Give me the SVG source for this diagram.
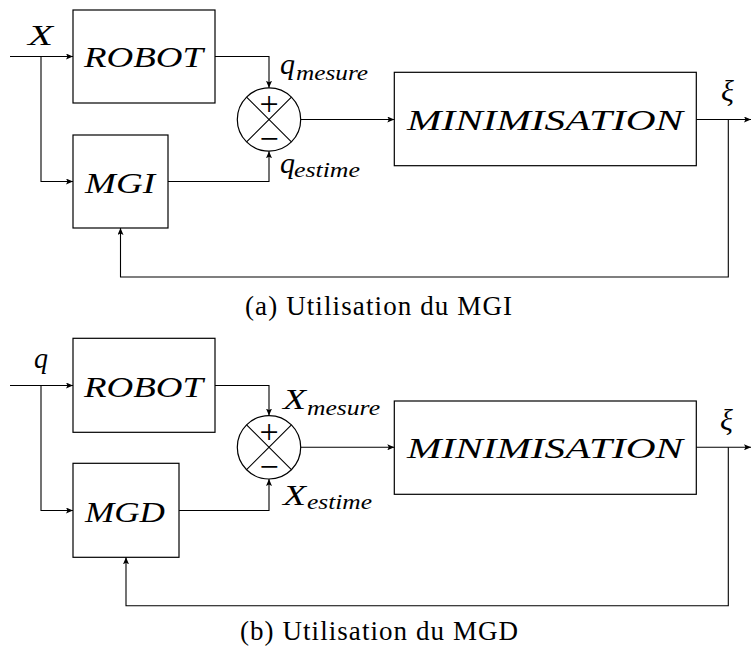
<svg xmlns="http://www.w3.org/2000/svg" width="751" height="654" viewBox="0 0 751 654">
<style>
.box{fill:#fff;stroke:#000;stroke-width:1.2}
.ln{fill:none;stroke:#000;stroke-width:1.1}
.ar{marker-end:url(#arr)}
.lab{font-family:"Liberation Serif","DejaVu Serif",serif;font-style:italic;fill:#000}
.big{font-size:30px}
.sub{font-size:21px}
.cap{font-family:"Liberation Serif","DejaVu Serif",serif;font-size:27px;fill:#000}
.pm{font-family:"Liberation Serif","DejaVu Serif",serif;font-size:34px;fill:#000;text-anchor:middle}
</style>
<defs>
<marker id="arr" markerWidth="8" markerHeight="6" refX="7" refY="3" orient="auto" markerUnits="userSpaceOnUse">
<path d="M0,0 L7,3 L0,6 L1.5,3 Z" fill="#000"/>
</marker>
</defs>
<!-- Diagram (a) -->
<g id="a-robot"><rect class="box" x="73" y="10" width="142" height="93"/><text class="lab big" x="84" y="67" textLength="119" lengthAdjust="spacingAndGlyphs">ROBOT</text></g>
<g id="a-mgi"><rect class="box" x="73" y="135" width="95" height="93"/><text class="lab big" x="85" y="193" textLength="70" lengthAdjust="spacingAndGlyphs">MGI</text></g>
<g id="a-sum"><circle cx="269" cy="119.5" r="31.7" class="box"/><path class="ln" d="M246.6,97.1 L291.4,141.9 M291.4,97.1 L246.6,141.9"/><text class="pm" x="269" y="114.5">+</text><text class="pm" x="269" y="149.5">−</text></g>
<g id="a-min"><rect class="box" x="394.3" y="72.3" width="302" height="93.4"/><text class="lab big" x="407" y="130" textLength="276" lengthAdjust="spacingAndGlyphs">MINIMISATION</text></g>
<g id="a-labels">
<text class="lab big" x="28" y="45" textLength="25" lengthAdjust="spacingAndGlyphs">X</text>
<text class="lab big" x="280" y="73.5">q</text><text class="lab sub" x="296" y="80" textLength="72" lengthAdjust="spacingAndGlyphs">mesure</text>
<text class="lab big" x="280" y="173">q</text><text class="lab sub" x="294" y="177" textLength="66" lengthAdjust="spacingAndGlyphs">estime</text>
<text class="lab big" x="721" y="101">ξ</text>
</g>
<g id="a-connectors">
<path class="ln ar" d="M10,56.5 H73"/>
<path class="ln ar" d="M41,56.5 V181.5 H73"/>
<path class="ln ar" d="M215,56.5 H269 V87.8"/>
<path class="ln ar" d="M168,181.5 H269 V151.2"/>
<path class="ln ar" d="M300.7,119.5 H394.3"/>
<path class="ln ar" d="M696.3,119.5 H751"/>
<path class="ln ar" d="M728.3,119.5 V277 H120.5 V228"/>
</g>
<text class="cap" x="245" y="315" textLength="267" lengthAdjust="spacing">(a) Utilisation du MGI</text>
<!-- Diagram (b) -->
<g id="b-robot"><rect class="box" x="73" y="338.3" width="142" height="94"/><text class="lab big" x="84" y="397" textLength="119" lengthAdjust="spacingAndGlyphs">ROBOT</text></g>
<g id="b-mgd"><rect class="box" x="73" y="463.3" width="106" height="94"/><text class="lab big" x="85" y="522" textLength="80" lengthAdjust="spacingAndGlyphs">MGD</text></g>
<g id="b-sum"><circle cx="269" cy="447.3" r="31.7" class="box"/><path class="ln" d="M246.6,424.9 L291.4,469.7 M291.4,424.9 L246.6,469.7"/><text class="pm" x="269" y="442.5">+</text><text class="pm" x="269" y="477.5">−</text></g>
<g id="b-min"><rect class="box" x="394.3" y="401" width="302" height="93.3"/><text class="lab big" x="407" y="458" textLength="276" lengthAdjust="spacingAndGlyphs">MINIMISATION</text></g>
<g id="b-labels">
<text class="lab big" x="34" y="368" textLength="14" lengthAdjust="spacingAndGlyphs">q</text>
<text class="lab big" x="283" y="409" textLength="23" lengthAdjust="spacingAndGlyphs">X</text><text class="lab sub" x="307" y="415" textLength="73" lengthAdjust="spacingAndGlyphs">mesure</text>
<text class="lab big" x="283" y="505" textLength="23" lengthAdjust="spacingAndGlyphs">X</text><text class="lab sub" x="307" y="509" textLength="65" lengthAdjust="spacingAndGlyphs">estime</text>
<text class="lab big" x="720" y="430">ξ</text>
</g>
<g id="b-connectors">
<path class="ln ar" d="M10,385.5 H73"/>
<path class="ln ar" d="M41,385.5 V510.5 H73"/>
<path class="ln ar" d="M215,385.5 H269 V415.6"/>
<path class="ln ar" d="M179,510.5 H269 V479"/>
<path class="ln ar" d="M300.7,447.3 H394.3"/>
<path class="ln ar" d="M696.3,447.3 H751"/>
<path class="ln ar" d="M728.3,447.3 V605.7 H126 V557.3"/>
</g>
<text class="cap" x="240" y="640" textLength="278" lengthAdjust="spacing">(b) Utilisation du MGD</text>
</svg>
